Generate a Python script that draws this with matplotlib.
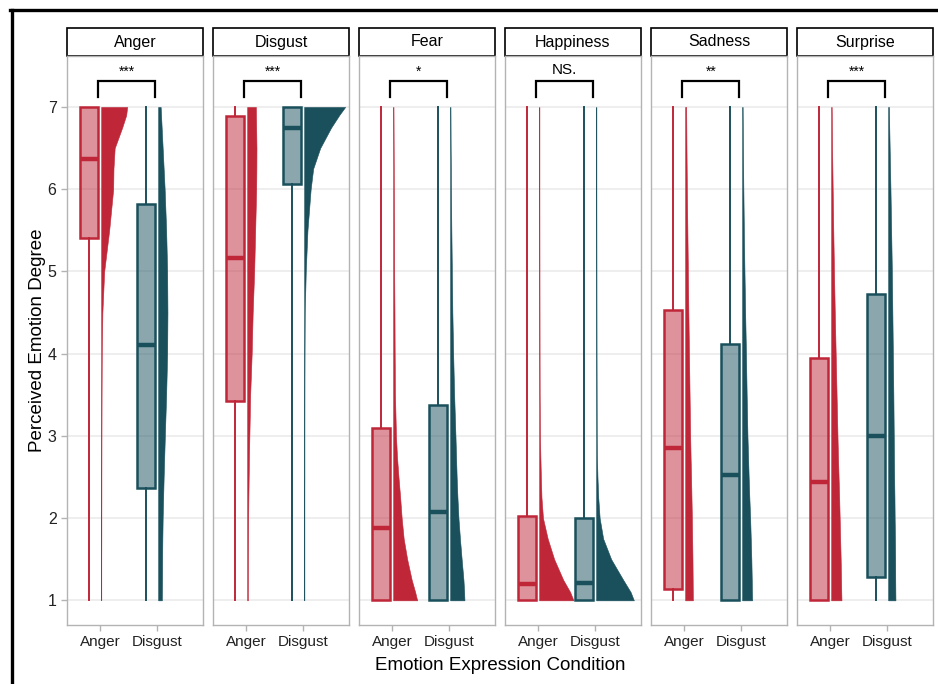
import numpy as np
import matplotlib
matplotlib.use('Agg')
import matplotlib.pyplot as plt
from matplotlib.patches import Rectangle
from matplotlib.lines import Line2D
from matplotlib.colors import to_rgba

plt.rcParams['font.family'] = ['Liberation Sans', 'DejaVu Sans']

# Facets and groups
emotions = ['Anger', 'Disgust', 'Fear', 'Happiness', 'Sadness', 'Surprise']
conditions = ['Anger', 'Disgust']
sig_labels = ['***', '***', '*', 'NS.', '**', '***']

# Box statistics (per facet)
anger_q1 = [5.41, 3.43, 1.00, 1.00, 1.14, 1.00]
anger_med = [6.37, 5.16, 1.885, 1.20, 2.85, 2.44]
anger_q3 = [7.00, 6.89, 3.10, 2.03, 4.53, 3.95]
anger_lo = [1, 1, 1, 1, 1, 1]
anger_hi = [7, 7, 7, 7, 7, 7]

disgust_q1 = [2.37, 6.06, 1.00, 1.00, 1.00, 1.28]
disgust_med = [4.11, 6.75, 2.075, 1.21, 2.52, 3.00]
disgust_q3 = [5.82, 7.00, 3.37, 2.00, 4.12, 4.72]
disgust_lo = [1, 1, 1, 1, 1, 1]
disgust_hi = [7, 7, 7, 7, 7, 7]

# Half-violin density profiles (relative widths) on a shared rating grid
dens_y = [1.0, 1.1, 1.25, 1.5, 1.75, 2.0, 2.25, 2.5, 2.75, 3.0, 3.5,
          4.0, 4.5, 5.0, 5.5, 6.0, 6.25, 6.5, 6.75, 6.9, 7.0]

anger_dens = [
    [0.1, 0.1, 0.1, 0.1, 0.15, 0.15, 0.2, 0.2, 0.25, 0.3, 0.4, 0.6, 1.2, 3, 8, 12, 12.3, 13.5, 21, 25, 26],
    [0.7, 0.7, 0.75, 0.8, 0.9, 1.0, 1.2, 1.5, 1.8, 2.2, 3, 4.5, 5.5, 7, 8, 9, 9.2, 9.3, 9.0, 8.8, 8.7],
    [24, 22, 18.5, 14, 10.5, 8.5, 7, 5.3, 3.8, 2.8, 1.8, 1.5, 1.3, 1.0, 0.9, 0.7, 0.6, 0.5, 0.4, 0.35, 0.3],
    [34.3, 31, 24, 15, 8.5, 3.8, 2.3, 1.7, 1.2, 0.8, 0.5, 0.4, 0.35, 0.3, 0.25, 0.2, 0.2, 0.2, 0.2, 0.2, 0.2],
    [7.7, 7.6, 7.5, 7.3, 7.0, 6.7, 6.3, 5.9, 5.4, 5.0, 4.4, 3.8, 3.2, 2.7, 2.2, 1.7, 1.5, 1.3, 1.15, 1.05, 1.0],
    [10.3, 10.1, 9.9, 9.5, 9.0, 8.5, 8, 7.4, 6.8, 6.3, 5.4, 4.5, 3.6, 2.8, 2.1, 1.5, 1.2, 0.9, 0.7, 0.6, 0.5],
]
disgust_dens = [
    [3.7, 3.8, 3.9, 4.0, 4.2, 4.5, 5, 5.5, 6.1, 6.7, 8, 9, 9.3, 9, 8, 6.5, 5.5, 4.5, 3.5, 2.9, 2.5],
    [0.2, 0.2, 0.2, 0.2, 0.2, 0.2, 0.2, 0.25, 0.25, 0.25, 0.3, 0.4, 0.6, 1.6, 3.3, 6.5, 9, 16, 27, 35, 41],
    [14.3, 14, 13.3, 11.5, 9.8, 8.3, 7.3, 6.5, 5.9, 5.3, 4, 3, 2.2, 1.7, 1.2, 0.8, 0.7, 0.5, 0.4, 0.35, 0.3],
    [37.7, 34.5, 27, 15, 7, 3.5, 2.1, 1.3, 0.8, 0.6, 0.5, 0.4, 0.35, 0.3, 0.25, 0.2, 0.2, 0.2, 0.2, 0.2, 0.2],
    [10, 9.8, 9.6, 9.2, 8.6, 8, 7.2, 6.5, 5.9, 5.3, 4.5, 3.8, 3, 2.3, 1.7, 1.2, 1.0, 0.8, 0.65, 0.55, 0.5],
    [7.3, 7.2, 7.1, 7, 6.8, 6.5, 6.3, 6.0, 5.8, 5.6, 5.2, 4.7, 4.2, 3.7, 3.0, 2.3, 1.9, 1.5, 1.1, 0.9, 0.8],
]

anger_col = '#BF2739'
disgust_col = '#19505C'
grid_col = '#EBEBEB'
frame_col = '#B3B3B3'

dens_scale = 1 / 57.0
box_shift = -0.2
box_w = 0.32

fig = plt.figure(figsize=(9.38, 6.84), dpi=100)
W, H = 938, 684
panel_x = [67, 213, 359, 505, 651, 797]
pw = 136
ptop, pbot = 56, 625
strip_h = 28

for i, emo in enumerate(emotions):
    ax = fig.add_axes([panel_x[i] / W, 1 - pbot / H, pw / W, (pbot - ptop) / H])
    ax.set_xlim(0.42, 2.807)
    ax.set_ylim(0.70, 7.62)
    ax.set_yticks(range(1, 8))
    ax.yaxis.grid(True, color=grid_col, lw=1.2)
    ax.set_axisbelow(True)
    for s in ax.spines.values():
        s.set_color(frame_col)
        s.set_linewidth(1.0)
    ax.tick_params(colors=frame_col, labelcolor='#222222', length=4, width=1)
    ax.set_xticks([1, 2])
    ax.set_xticklabels(conditions, fontsize=11)
    if i == 0:
        ax.set_yticklabels([str(v) for v in range(1, 8)], fontsize=11.5)
    else:
        ax.tick_params(axis='y', left=False, labelleft=False)

    groups = [
        (anger_col, anger_q1[i], anger_med[i], anger_q3[i], anger_lo[i], anger_hi[i], anger_dens[i]),
        (disgust_col, disgust_q1[i], disgust_med[i], disgust_q3[i], disgust_lo[i], disgust_hi[i], disgust_dens[i]),
    ]
    for k, (col, q1, med, q3, lo, hi, dens) in enumerate(groups):
        pos = k + 1
        # half violin on the right side of each position
        w = np.array(dens) * dens_scale
        ax.fill_betweenx(dens_y, pos + 0.02, pos + 0.02 + w, facecolor=col,
                         edgecolor=col, lw=0.4, zorder=2)
        stats = [dict(med=med, q1=q1, q3=q3, whislo=lo, whishi=hi, fliers=[])]
        bp = ax.bxp(stats, positions=[pos + box_shift], widths=box_w, patch_artist=True,
                    showcaps=False, showfliers=False, manage_ticks=False,
                    boxprops=dict(facecolor=to_rgba(col, 0.5), edgecolor=col, lw=1.8),
                    whiskerprops=dict(color=col, lw=1.4),
                    medianprops=dict(color=col, lw=3.2, solid_capstyle='butt'))
        for b in bp['boxes']:
            b.set_zorder(3)

    # significance bracket
    bx0, bx1 = 0.97, 1.97
    ax.plot([bx0, bx0, bx1, bx1], [7.12, 7.315, 7.315, 7.12], color='black', lw=1.6,
            solid_joinstyle='miter', zorder=4)
    if sig_labels[i] == 'NS.':
        ax.text((bx0 + bx1) / 2, 7.45, sig_labels[i], ha='center', va='center', fontsize=11)
    else:
        ax.text((bx0 + bx1) / 2, 7.43, sig_labels[i], ha='center', va='center', fontsize=10)

    # facet strip
    ax.add_patch(Rectangle((0, 1), 1, strip_h / (pbot - ptop), transform=ax.transAxes,
                           facecolor='white', edgecolor='black', lw=1.2, clip_on=False))
    ax.text(0.5, 1 + strip_h / 2 / (pbot - ptop), emo, transform=ax.transAxes,
            ha='center', va='center', fontsize=11.5)

fig.text(38 / W, 1 - 340 / H, 'Perceived Emotion Degree', rotation=90,
         ha='center', va='center', fontsize=13.5)
fig.text(500 / W, 1 - 665 / H, 'Emotion Expression Condition',
         ha='center', va='center', fontsize=13.5)

# black frame on the left and top edges
fig.add_artist(Line2D([11.5 / W, 11.5 / W], [0, 1 - 9.5 / H], color='black', lw=2.4,
                      transform=fig.transFigure))
fig.add_artist(Line2D([10 / W, 1], [1 - 9.5 / H, 1 - 9.5 / H], color='black', lw=2.4,
                      transform=fig.transFigure))

fig.savefig('out.png', dpi=100)
